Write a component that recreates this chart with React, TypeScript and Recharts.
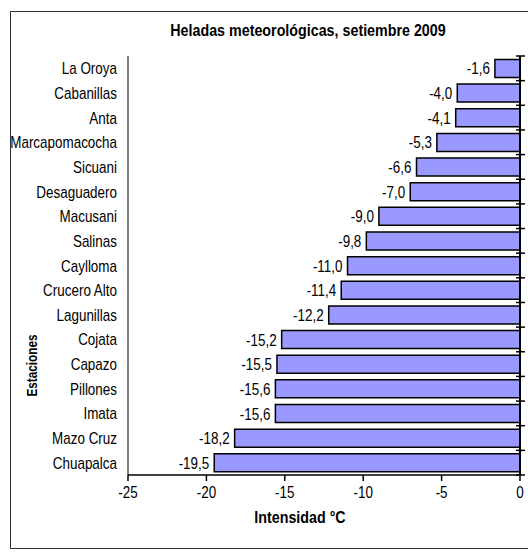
import React from 'react';
import { BarChart, Bar, XAxis, YAxis, ReferenceLine, LabelList, Label } from 'recharts';

const estaciones: string[] = [
  'La Oroya', 'Cabanillas', 'Anta', 'Marcapomacocha', 'Sicuani', 'Desaguadero',
  'Macusani', 'Salinas', 'Caylloma', 'Crucero Alto', 'Lagunillas', 'Cojata',
  'Capazo', 'Pillones', 'Imata', 'Mazo Cruz', 'Chuapalca',
];

const intensidad: number[] = [
  -1.6, -4.0, -4.1, -5.3, -6.6, -7.0, -9.0, -9.8, -11.0, -11.4, -12.2, -15.2,
  -15.5, -15.6, -15.6, -18.2, -19.5,
];

const xTicks: number[] = [-25, -20, -15, -10, -5, 0];

const data = estaciones.map((name, i) => ({ name, valor: intensidad[i] }));

const W = 528;
const H = 552;
const M = { top: 56, right: 8, bottom: 17, left: 0 };
const X_AXIS_H = 60;
const FONT = '"Liberation Sans", Arial, sans-serif';
const NARROW = 0.84; // imitación de Arial Narrow

// texto estrecho: Liberation Sans comprimido en horizontal
const Narrow = ({ x, y, anchor = 'middle', size = 16, bold = false, angle = 0, dy = 0, children }: any) => (
  <text
    transform={`translate(${x},${y}) rotate(${angle}) scale(${NARROW},1)`}
    textAnchor={anchor}
    dy={dy}
    fontSize={size}
    fontWeight={bold ? 'bold' : 'normal'}
    fontFamily={FONT}
    fill="#000"
  >
    {children}
  </text>
);

const band = (H - M.top - M.bottom - X_AXIS_H) / estaciones.length;
const axisX = W - M.right;

const CategoryTick = (props: any) => {
  const { x, y, payload, index } = props;
  return (
    <g>
      <Narrow x={x} y={y} anchor="end" dy={6}>{payload.value}</Narrow>
      <line x1={axisX - 4} x2={axisX + 5} y1={y - band / 2} y2={y - band / 2} stroke="#000" strokeWidth={1.5} />
      {index === estaciones.length - 1 && (
        <line x1={axisX - 4} x2={axisX + 5} y1={y + band / 2} y2={y + band / 2} stroke="#000" strokeWidth={1.5} />
      )}
    </g>
  );
};

const NumberTick = (props: any) => {
  const { x, y, payload } = props;
  return <Narrow x={x} y={y} dy={12}>{payload.value}</Narrow>;
};

// etiqueta a la izquierda del extremo de la barra, con coma decimal
const ValueLabel = (props: any) => {
  const { x, y, width, height, value } = props;
  const left = Math.min(x, x + width);
  return (
    <Narrow x={left - 5} y={y + height / 2} anchor="end" dy={6}>
      {Number(value).toFixed(1).replace('.', ',')}
    </Narrow>
  );
};

const XTitle = (props: any) => {
  const { viewBox } = props;
  return (
    <Narrow x={viewBox.x + viewBox.width / 2 - 24} y={viewBox.y + 48} size={17} bold>
      Intensidad °C
    </Narrow>
  );
};

const YTitle = (props: any) => {
  const { viewBox } = props;
  return (
    <Narrow x={viewBox.x + 37} y={viewBox.y + viewBox.height / 2 + 100} size={14} bold angle={-90}>
      Estaciones
    </Narrow>
  );
};

const App: React.FC = () => {
  return (
    <div style={{ position: 'fixed', left: 0, top: 0, width: W, height: H, overflow: 'hidden', background: '#fff', fontFamily: FONT }}>
      <div style={{ position: 'absolute', left: 10, top: 11, width: 540, height: 536, border: '1.5px solid #333' }} />
      <div style={{ position: 'absolute', left: 0, top: 0 }}>
        <BarChart
          width={W}
          height={H}
          data={data}
          layout="vertical"
          barCategoryGap="14%"
          margin={M}
        >
          <XAxis
            type="number"
            dataKey="valor"
            domain={[-25, 0]}
            ticks={xTicks}
            height={X_AXIS_H}
            axisLine={{ stroke: '#000', strokeWidth: 1.5 }}
            tickLine={{ stroke: '#000', strokeWidth: 1.5 }}
            tickSize={6}
            tickMargin={5}
            tick={NumberTick}
          >
            <Label content={XTitle} />
          </XAxis>
          <XAxis
            xAxisId="top"
            type="number"
            orientation="top"
            domain={[-25, 0]}
            height={0}
            tick={false}
            tickLine={false}
            axisLine={{ stroke: '#000', strokeWidth: 1 }}
          />
          <YAxis
            type="category"
            dataKey="name"
            width={128}
            axisLine={{ stroke: '#000', strokeWidth: 1 }}
            tickLine={false}
            tickSize={6}
            tickMargin={5}
            interval={0}
            tick={CategoryTick}
          >
            <Label content={YTitle} />
          </YAxis>
          <Bar dataKey="valor" fill="#9999ff" stroke="#000" strokeWidth={1.5} isAnimationActive={false}>
            <LabelList dataKey="valor" content={ValueLabel} />
          </Bar>
          <ReferenceLine x={0} stroke="#000" strokeWidth={2} />
        </BarChart>
      </div>
      <div
        style={{
          position: 'absolute', left: 108, top: 21, width: 400, textAlign: 'center',
          fontWeight: 'bold', fontSize: 17, color: '#000', fontFamily: FONT,
          transform: `scaleX(${NARROW})`, transformOrigin: '50% 0',
        }}
      >
        Heladas meteorológicas, setiembre 2009
      </div>
    </div>
  );
};

export default App;
